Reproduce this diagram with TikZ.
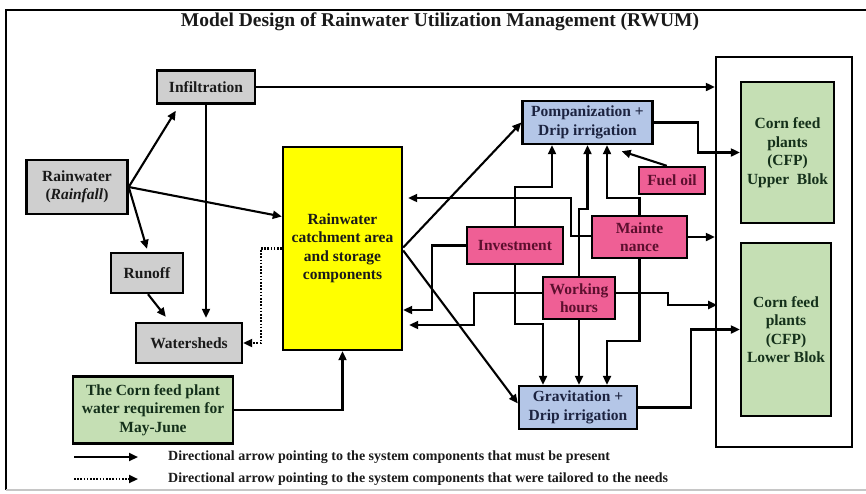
\documentclass[tikz,border=0pt]{standalone}
\usepackage{fontspec}
\setmainfont{Liberation Serif}
\usetikzlibrary{arrows.meta,calc}
\definecolor{boxgray}{HTML}{CFCFCF}
\definecolor{boxblue}{HTML}{B4C6E7}
\definecolor{boxpink}{HTML}{EF5F95}
\definecolor{boxgreen}{HTML}{C5DFB4}
\definecolor{boxyellow}{HTML}{FFFF00}
\definecolor{txtpink}{HTML}{5C0F2E}
\definecolor{txtblue}{HTML}{1C2340}
\definecolor{txtgreen}{HTML}{14301A}
\definecolor{txtdark}{HTML}{1A1A1A}
\tikzset{
  bx/.style={draw=black, line width=2.4pt, inner sep=0pt, align=center,
    font=\fontsize{15.5}{18.5}\selectfont\bfseries, text=txtdark},
  graybox/.style={bx, fill=boxgray},
  bluebox/.style={bx, fill=boxblue, text=txtblue},
  pinkbox/.style={bx, fill=boxpink, text=txtpink},
  greenbox/.style={bx, fill=boxgreen, text=txtgreen},
  yellowbox/.style={bx, fill=boxyellow, text=txtdark},
  arr/.style={line width=2.1pt, -{Triangle[length=9pt,width=8pt]}},
  dotarr/.style={arr, dash pattern=on 1.6pt off 1.6pt},
  legtext/.style={anchor=west, inner sep=0pt, font=\fontsize{14}{16}\selectfont\bfseries, text=txtdark}
}
\begin{document}
\begin{tikzpicture}[x=1pt,y=-1pt]
\useasboundingbox (0,0) rectangle (866,493);
% outer frame
\draw[line width=2.4pt] (6,490) -- (6,10) -- (866,10);
\draw[line width=1.5pt, gray!45] (6,490) -- (866,490);
% title
\node[font=\fontsize{19.5}{22}\selectfont\bfseries, text=txtdark] (title) at (440,22) {Model Design of Rainwater Utilization Management (RWUM)};
% right frame
\node[draw=black, line width=2.4pt, minimum width=136pt, minimum height=390pt, inner sep=0pt] (frame) at (784,252) {};
% boxes
\node[graybox, minimum width=98pt, minimum height=33pt] (infil) at (206,87) {Infiltration};
\node[graybox, minimum width=101pt, minimum height=54pt] (rain) at (77,187) {Rainwater\\(\textit{Rainfall})};
\node[graybox, minimum width=72pt, minimum height=40pt] (runoff) at (147,273) {Runoff};
\node[graybox, minimum width=106pt, minimum height=40pt] (water) at (189,343) {Watersheds};
\node[greenbox, minimum width=160pt, minimum height=67pt] (req) at (153,410) {The Corn feed plant\\water requiremen for\\May-June};
\node[yellowbox, minimum width=119pt, minimum height=203pt] (yellow) at (342.5,248.5) {Rainwater\\catchment area\\and storage\\components};
\node[bluebox, minimum width=130pt, minimum height=43pt] (pomp) at (587.5,122.5) {Pompanization +\\Drip irrigation};
\node[pinkbox, minimum width=66pt, minimum height=27pt] (fuel) at (672,180.5) {Fuel oil};
\node[pinkbox, minimum width=96pt, minimum height=37pt] (invest) at (515,245.5) {Investment};
\node[pinkbox, minimum width=95pt, minimum height=42pt] (maint) at (639.5,237) {Mainte\\nance};
\node[pinkbox, minimum width=72pt, minimum height=42pt] (work) at (579,298) {Working\\hours};
\node[bluebox, minimum width=118pt, minimum height=43pt] (grav) at (578,407.5) {Gravitation +\\Drip irrigation};
\node[greenbox, minimum width=93pt, minimum height=141pt] (upper) at (787.5,152.5) {Corn feed\\plants\\(CFP)\\Upper\ \ Blok};
\node[greenbox, minimum width=90pt, minimum height=173pt] (lower) at (786,329.5) {Corn feed\\plants\\(CFP)\\Lower Blok};
% connectors
\draw[arr] (rain.east) -- ($(infil.south west)+(20,6)$);
\draw[arr] (rain.east) -- ($(runoff.north)+(0,-3)$);
\draw[arr] (rain.east) -- ($(yellow.west)+(0,-32)$);
\draw[arr] (infil.east) -- (frame.west |- infil.east);
\draw[arr] (infil.south) -- ($(infil.south |- water.north)+(0,-4)$);
\draw[arr] ($(runoff.south)+(1,0)$) -- ($(water.north west)+(31,-5)$);
\draw[dotarr] (yellow.west) -- ++(-21,0) |- (water.east);
\draw[arr] (req.east) -| (yellow.south);
\draw[arr] ($(yellow.east)+(0,-1)$) -- (pomp.west);
\draw[arr] ($(yellow.east)+(0,2)$) -- ($(grav.west)+(0,-4)$);
\draw[arr] (pomp.east) -- ++(44.5,0) |- (upper.west);
\draw[arr] (grav.east) -- ++(53,0) |- (lower.west);
\draw[arr] ($(fuel.north west)+(29,0)$) -- ($(pomp.south east)+(-32,6)$);
\draw[arr] (maint.east) -- (frame.west |- maint.east);
\draw[arr] ($(work.east)+(0,-5)$) -| ++(52,12) -- ++(49,0);
\draw[arr] (maint.north) -- ++(0,-17) -| ($(pomp.south)+(19.5,0)$);
\draw[arr] (work.north) -- ++(0,-67) -| (pomp.south);
\draw[arr] (invest.north) -- ++(0,-39) -| ($(pomp.south)+(-35.5,0)$);
\draw[arr] (invest.west) -- ++(-34,0) |- ($(yellow.east)+(0,61.5)$);
\draw[arr] ($(maint.west)+(0,-1)$) -- ++(-20,0) |- ($(yellow.east)+(5,-50.5)$);
\draw[arr] ($(work.west)+(0,-5)$) -- ++(-68,0) |- ($(yellow.east)+(6,76.5)$);
\draw[arr] (invest.south) -- ++(0,59) -| ($(grav.north)+(-35,0)$);
\draw[arr] (work.south) -- (work.south |- grav.north);
\draw[arr] (maint.south) -- ++(0,82) -| ($(grav.north)+(29,0)$);
% legend
\coordinate (l1s) at (74,457);
\coordinate (l1e) at (138,457);
\coordinate (l2s) at (74,479);
\coordinate (l2e) at (138,479);
\draw[arr] (l1s) -- (l1e);
\draw[dotarr] (l2s) -- (l2e);
\node[legtext] (leg1) at (168,457) {Directional arrow pointing to the system components that must be present};
\node[legtext] (leg2) at (168,479) {Directional arrow pointing to the system components that were tailored to the needs};
\end{tikzpicture}
\end{document}
